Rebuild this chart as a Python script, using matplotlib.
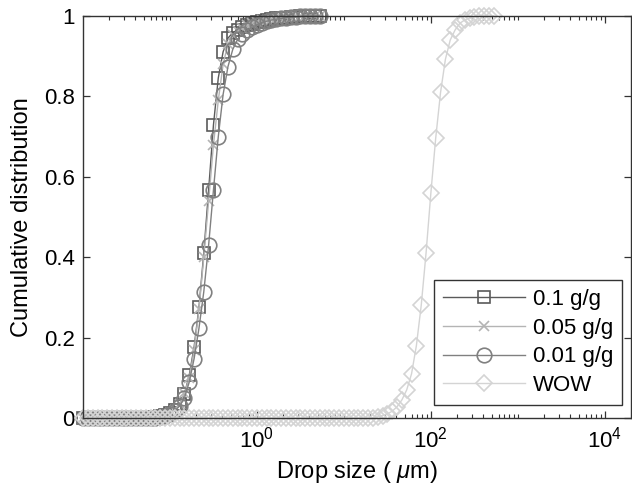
import math
import matplotlib
matplotlib.use("Agg")
import matplotlib.pyplot as plt
from matplotlib.ticker import FixedLocator, FuncFormatter, NullFormatter

plt.rcParams['font.family'] = ['Liberation Sans', 'DejaVu Sans']
plt.rcParams['mathtext.fontset'] = 'custom'
plt.rcParams['mathtext.rm'] = 'Liberation Sans'
plt.rcParams['mathtext.it'] = 'Liberation Sans:italic'

# Size classes (um)
sizes = [0.01, 0.01136, 0.01292, 0.01468, 0.01668, 0.01896, 0.02154, 0.02448, 0.02783, 0.03162,
         0.03594, 0.04084, 0.04642, 0.05275, 0.05995, 0.06813, 0.07743, 0.08799, 0.1, 0.1136,
         0.1292, 0.1468, 0.1668, 0.1896, 0.2154, 0.2448, 0.2783, 0.3162, 0.3594, 0.4084,
         0.4642, 0.5275, 0.5995, 0.6813, 0.7743, 0.8799, 1.0, 1.136, 1.292, 1.468,
         1.668, 1.896, 2.154, 2.448, 2.783, 3.162, 3.594, 4.084, 4.642, 5.275,
         5.995, 6.813, 7.743, 8.799, 10.0, 11.36, 12.92, 14.68, 16.68, 18.96,
         21.54, 24.48, 27.83, 31.62, 35.94, 40.84, 46.42, 52.75, 59.95, 68.13,
         77.43, 87.99, 100.0, 113.6, 129.2, 146.8, 166.8, 189.6, 215.4, 244.8,
         278.3, 316.2, 359.4, 408.4, 464.2, 527.5]

cum_01 = [0, 0, 0, 0, 0, 0, 0, 0, 0, 0,
          0, 0, 0, 0, 0.001, 0.002, 0.004, 0.007, 0.012, 0.02,
          0.035, 0.06, 0.107, 0.177, 0.275, 0.41, 0.567, 0.729, 0.846, 0.911,
          0.945, 0.958, 0.966, 0.972, 0.977, 0.981, 0.985, 0.988, 0.99, 0.992,
          0.994, 0.995, 0.996, 0.997, 0.998, 0.999, 1.0, 1.0, 1.0, 1.0]

cum_005 = [0, 0, 0, 0, 0, 0, 0, 0, 0, 0,
           0, 0, 0, 0, 0.001, 0.002, 0.004, 0.007, 0.012, 0.02,
           0.035, 0.062, 0.10, 0.17, 0.27, 0.40, 0.54, 0.68, 0.79, 0.88,
           0.93, 0.952, 0.963, 0.971, 0.977, 0.982, 0.986, 0.989, 0.991, 0.993,
           0.995, 0.996, 0.997, 0.998, 0.999, 0.999, 1.0, 1.0, 1.0, 1.0]

cum_001 = [0, 0, 0, 0, 0, 0, 0, 0, 0, 0,
           0, 0, 0, 0, 0, 0.001, 0.003, 0.006, 0.01, 0.018,
           0.03, 0.05, 0.09, 0.148, 0.223, 0.314, 0.43, 0.567, 0.70, 0.805,
           0.874, 0.917, 0.942, 0.956, 0.965, 0.972, 0.978, 0.983, 0.987, 0.99,
           0.992, 0.994, 0.996, 0.997, 0.998, 0.999, 1.0, 1.0, 1.0, 1.0]

cum_wow = [0, 0, 0, 0, 0, 0, 0, 0, 0, 0,
           0, 0, 0, 0, 0, 0, 0, 0, 0, 0,
           0, 0, 0, 0, 0, 0, 0, 0, 0, 0,
           0, 0, 0, 0, 0, 0, 0, 0, 0, 0,
           0, 0, 0, 0, 0, 0, 0, 0, 0, 0,
           0, 0, 0, 0, 0, 0, 0, 0, 0, 0,
           0.001, 0.003, 0.006, 0.01, 0.017, 0.028, 0.045, 0.07, 0.11, 0.18,
           0.28, 0.41, 0.56, 0.696, 0.81, 0.892, 0.94, 0.965, 0.982, 0.99,
           0.995, 0.998, 1.0, 1.0, 1.0, 1.0]

labels = ['0.1 g/g', '0.05 g/g', '0.01 g/g', 'WOW']
series = [cum_01, cum_005, cum_001, cum_wow]
colors = ['#5a5a5a', '#b4b4b4', '#808080', '#d4d4d4']
markers = ['s', 'x', 'o', 'D']
msizes = [8.5, 7.5, 10.5, 8.0]

fig = plt.figure(figsize=(6.32, 4.9), dpi=100)
ax = fig.add_axes([83 / 632, 72 / 490, 548 / 632, 402 / 490])

for y, lab, c, m, ms in zip(series, labels, colors, markers, msizes):
    ax.plot(sizes[:len(y)], y, color=c, marker=m, markersize=ms, markerfacecolor='none',
            markeredgecolor=c, markeredgewidth=1.2, linewidth=1.0, label=lab, clip_on=False)

ax.set_xscale('log')
ax.set_xlim(0.01, 2e4)
ax.set_ylim(0, 1)

ax.xaxis.set_major_locator(FixedLocator([1, 100, 1e4]))
ax.xaxis.set_major_formatter(FuncFormatter(lambda v, p: r'$10^{%d}$' % round(math.log10(v))))
minor = []
for k in range(-2, 5):
    for j in range(1, 10):
        v = j * 10.0 ** k
        if 0.01 < v < 2e4 and v not in (1, 100, 1e4):
            minor.append(v)
ax.xaxis.set_minor_locator(FixedLocator(minor))
ax.xaxis.set_minor_formatter(NullFormatter())

ax.set_yticks([0, 0.2, 0.4, 0.6, 0.8, 1.0])
ax.set_yticklabels(['0', '0.2', '0.4', '0.6', '0.8', '1'])

ax.tick_params(which='both', direction='in', top=True, right=True, labelsize=16, colors='#333333',
               labelcolor='black')
ax.tick_params(which='major', length=5, width=0.9, pad=6)
ax.tick_params(which='minor', length=3, width=0.8)
for s in ax.spines.values():
    s.set_color('#333333')
    s.set_linewidth(1.0)

ax.set_xlabel(r'Drop size ( $\mu$m)', fontsize=17, labelpad=5)
ax.set_ylabel('Cumulative distribution', fontsize=17, labelpad=8)

leg = ax.legend(loc='lower right', bbox_to_anchor=(622 / 632, 85 / 490),
                bbox_transform=fig.transFigure, fontsize=16, handlelength=3.7,
                handletextpad=0.35, labelspacing=0.35, borderpad=0.4, fancybox=False,
                framealpha=1, edgecolor='#333333', borderaxespad=0)
leg.get_frame().set_linewidth(1.0)

fig.savefig('out.png', dpi=100)
